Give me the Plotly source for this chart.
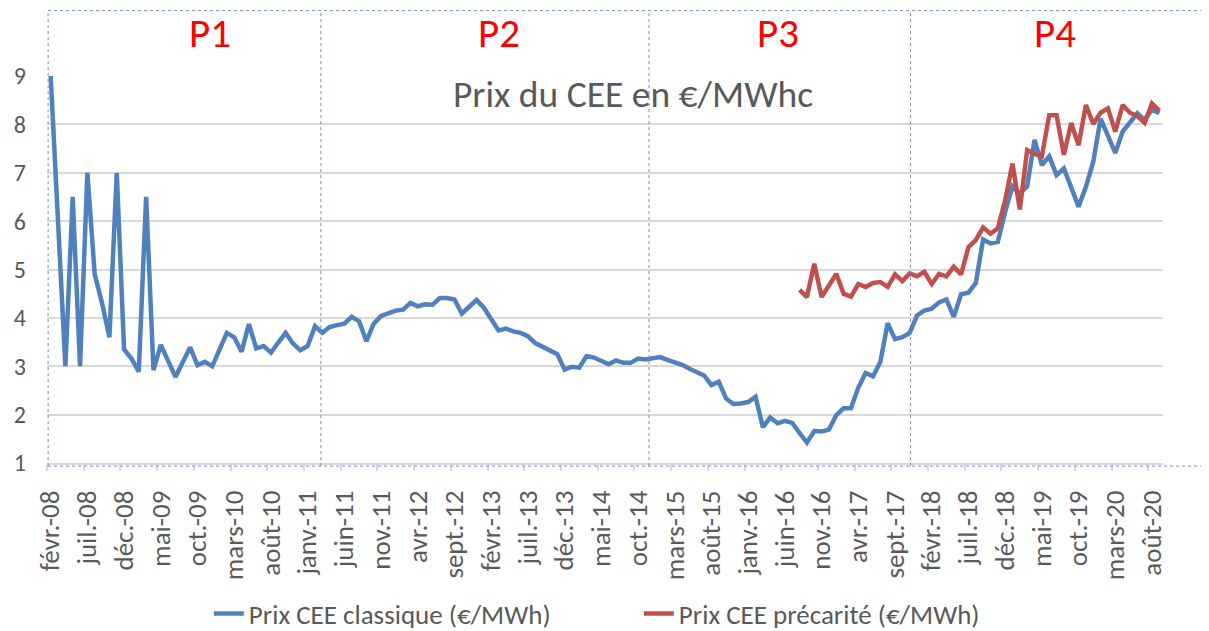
import numpy as np
import pandas as pd
import plotly.graph_objects as go

# ---- data ----
debut = "2008-02"
prix_classique = [
    9.0, 6.0, 3.0, 6.5, 3.0, 7.0, 4.9, 4.3, 3.6, 7.0,
    3.35, 3.16, 2.89, 6.5, 2.92, 3.44, 3.13, 2.78, 3.09, 3.39,
    3.02, 3.09, 3.0, 3.33, 3.69, 3.6, 3.3, 3.87, 3.37, 3.42,
    3.28, 3.49, 3.69, 3.47, 3.33, 3.42, 3.83, 3.69, 3.81, 3.85,
    3.88, 4.02, 3.93, 3.52, 3.88, 4.04, 4.09, 4.15, 4.17, 4.31,
    4.24, 4.28, 4.27, 4.41, 4.41, 4.38, 4.09, 4.24, 4.37, 4.21,
    3.96, 3.74, 3.78, 3.72, 3.69, 3.62, 3.48, 3.40, 3.34, 3.25,
    2.93, 2.99, 2.97, 3.21, 3.18, 3.11, 3.04, 3.12, 3.07, 3.07,
    3.16, 3.14, 3.16, 3.19, 3.13, 3.08, 3.03, 2.95, 2.88, 2.81,
    2.61, 2.68, 2.33, 2.22, 2.23, 2.26, 2.37, 1.74, 1.94, 1.82,
    1.87, 1.83, 1.62, 1.42, 1.66, 1.65, 1.69, 1.99, 2.13, 2.13,
    2.56, 2.86, 2.79, 3.09, 3.89, 3.56, 3.60, 3.69, 4.05, 4.15,
    4.19, 4.32, 4.38, 4.02, 4.49, 4.52, 4.72, 5.62, 5.54, 5.57,
    6.19, 6.72, 6.57, 6.72, 7.68, 7.16, 7.34, 6.95, 7.09, 6.70,
    6.30, 6.71, 7.23, 8.12, 7.78, 7.41, 7.85, 8.03, 8.23, 8.09,
    8.31, 8.23,
]
debut_precarite = "2016-08"
prix_precarite = [
    4.58, 4.43, 5.12, 4.43, 4.67, 4.91, 4.50, 4.44, 4.70, 4.64,
    4.72, 4.74, 4.64, 4.90, 4.76, 4.92, 4.86, 4.95, 4.70, 4.91,
    4.86, 5.06, 4.90, 5.46, 5.61, 5.87, 5.74, 5.85, 6.43, 7.19,
    6.24, 7.47, 7.39, 7.34, 8.19, 8.19, 7.37, 8.03, 7.57, 8.40,
    8.01, 8.24, 8.33, 7.85, 8.40, 8.24, 8.17, 8.03, 8.43, 8.28,
]
tick_labels = [
    "févr.-08", "juil.-08", "déc.-08", "mai-09", "oct.-09", "mars-10", "août-10",
    "janv.-11", "juin-11", "nov.-11", "avr.-12", "sept.-12", "févr.-13", "juil.-13",
    "déc.-13", "mai-14", "oct.-14", "mars-15", "août-15", "janv.-16", "juin-16",
    "nov.-16", "avr.-17", "sept.-17", "févr.-18", "juil.-18", "déc.-18", "mai-19",
    "oct.-19", "mars-20", "août-20",
]
periodes = ["P1", "P2", "P3", "P4"]
periode_centres = [21.7, 61.0, 99.1, 136.8]    # month index of label centre
periode_limites = [36.8, 81.5, 117.1]          # month index of dotted separators
titre = "Prix du CEE en €/MWhc"
noms = ["Prix CEE classique (€/MWh)", "Prix CEE précarité (€/MWh)"]

# ---- derived ----
x_classique = np.arange(len(prix_classique))
i0 = (pd.Period(debut_precarite, "M") - pd.Period(debut, "M")).n
x_precarite = np.arange(i0, i0 + len(prix_precarite))
tick_pos = list(range(0, 5 * len(tick_labels), 5))
minor_pos = [p - 0.5 for p in tick_pos]

FONT = "Carlito, Calibri, Lato, sans-serif"
GREY = "#595959"
BOX = "#6f8fc4"

fig = go.Figure()
fig.add_trace(go.Scatter(x=x_classique, y=prix_classique, mode="lines", name=noms[0],
                         line=dict(color="#4f81bd", width=4.5)))
fig.add_trace(go.Scatter(x=x_precarite, y=prix_precarite, mode="lines", name=noms[1],
                         line=dict(color="#c0504d", width=4.5)))

shapes = []
top_y = 1.169
shapes.append(dict(type="line", xref="paper", yref="paper", x0=0.001, x1=1.06, y0=top_y, y1=top_y,
                   line=dict(color=BOX, width=1, dash="dot")))
shapes.append(dict(type="line", xref="paper", yref="paper", x0=0.001, x1=1.06, y0=-0.008, y1=-0.008,
                   line=dict(color=BOX, width=1, dash="dot")))
shapes.append(dict(type="line", xref="paper", yref="paper", x0=0.001, x1=0.001, y0=-0.008, y1=top_y,
                   line=dict(color=BOX, width=1, dash="dot")))
for xv in periode_limites:
    shapes.append(dict(type="line", xref="x", yref="paper", x0=xv, x1=xv, y0=-0.008, y1=top_y,
                       line=dict(color=BOX, width=1, dash="dot")))

annotations = []
for lab, xc in zip(periodes, periode_centres):
    annotations.append(dict(text=lab, x=xc, xref="x", y=1.11, yref="paper", showarrow=False,
                            font=dict(family=FONT, size=41, color="#ff0000"),
                            xanchor="center", yanchor="middle"))
annotations.append(dict(text=titre, x=0.525, xref="paper", y=0.953, yref="paper", showarrow=False,
                        font=dict(family=FONT, size=37.5, color=GREY), xanchor="center", yanchor="middle"))

fig.update_layout(
    width=1201, height=623,
    margin=dict(l=39, r=46, t=68, b=168, autoexpand=False),
    paper_bgcolor="white", plot_bgcolor="white",
    font=dict(family=FONT, color=GREY),
    shapes=shapes, annotations=annotations,
    showlegend=True,
    legend=dict(orientation="h", x=0.145, xanchor="left", y=-0.39, yanchor="middle",
                font=dict(family=FONT, size=27, color=GREY), entrywidth=385, entrywidthmode="pixels",
                bgcolor="rgba(0,0,0,0)"),
)
fig.update_xaxes(
    range=[-0.5, len(prix_classique) - 0.5],
    tickmode="array", tickvals=tick_pos, ticktext=tick_labels,
    tickangle=-90, ticks="", ticklabelstandoff=15,
    tickfont=dict(family=FONT, size=27, color=GREY),
    showgrid=False, zeroline=False, automargin=False,
    showline=True, linecolor="#d9d9d9", linewidth=1.5,
    minor=dict(tickmode="array", tickvals=minor_pos, ticks="outside", ticklen=6,
               tickcolor="#d9d9d9", tickwidth=1.5, showgrid=False),
)
fig.update_yaxes(
    range=[1, 9], tickmode="array", tickvals=list(range(1, 10)),
    ticks="", ticklabelstandoff=20, automargin=False,
    tickfont=dict(family=FONT, size=24, color=GREY),
    showgrid=True, gridcolor="#d9d9d9", gridwidth=1.5, zeroline=False, showline=False,
)

fig.write_html("out.html")
